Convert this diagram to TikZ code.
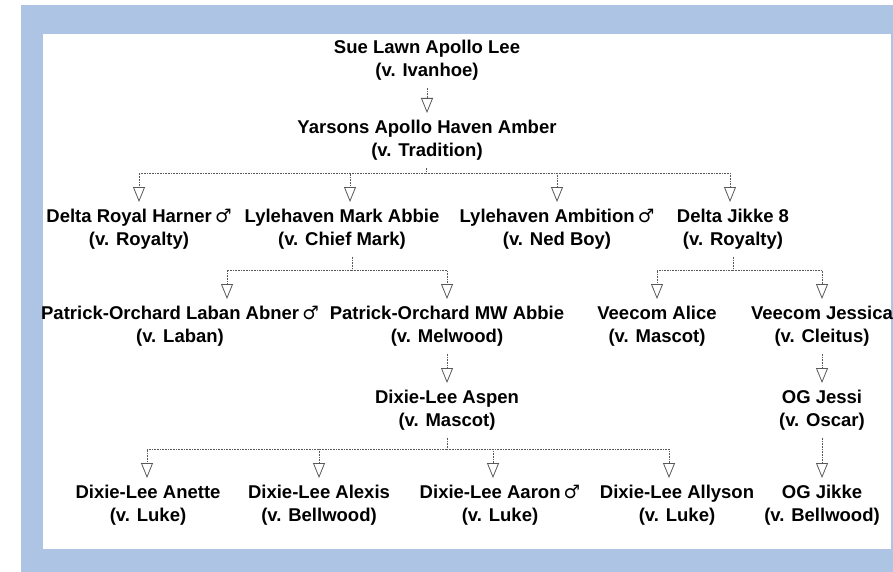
\documentclass[tikz,border=0pt]{standalone}
\usepackage{fontspec}
\setmainfont{Liberation Sans}
\newfontfamily\symfont{DejaVu Sans}
\usepackage{tikz}
\usetikzlibrary{arrows.meta}
\definecolor{frameBlue}{RGB}{174,196,228}
\newcommand{\maleSign}{{\symfont\mdseries\,♂}}
\tikzset{
  dog/.style={align=center, inner sep=0pt, outer ysep=7pt, anchor=north, font=\fontsize{18.5}{23.5}\selectfont\bfseries},
  line/.style={draw=black!65, densely dotted, line width=0.6pt},
  link/.style={line, -{Triangle[open, length=15pt, width=12pt, line width=0.8pt]}}
}

\begin{document}
\begin{tikzpicture}[x=1pt, y=-1pt]
    \useasboundingbox (0,0) rectangle (893,572);
    \fill[frameBlue] (21,5) rectangle (893,572);
    \fill[white] (43,34) rectangle (891,549);

    \node[dog] (sue) at (427,33) {Sue Lawn Apollo Lee\\(v. Ivanhoe)};
    \node[dog] (yarsons) at (427,113) {Yarsons Apollo Haven Amber\\(v. Tradition)};

    \node[dog] (harner) at (139,202) {Delta Royal Harner\maleSign\\(v. Royalty)};
    \node[dog] (markAbbie) at (342,202) {Lylehaven Mark Abbie\\(v. Chief Mark)};
    \node[dog] (ambition) at (557,202) {Lylehaven Ambition\maleSign\\(v. Ned Boy)};
    \node[dog] (jikkeEight) at (733,202) {Delta Jikke 8\\(v. Royalty)};

    \node[dog] (labanAbner) at (180,299) {Patrick-Orchard Laban Abner\maleSign\\(v. Laban)};
    \node[dog] (mwAbbie) at (447,299) {Patrick-Orchard MW Abbie\\(v. Melwood)};
    \node[dog] (alice) at (657,299) {Veecom Alice\\(v. Mascot)};
    \node[dog] (jessica) at (822,299) {Veecom Jessica\\(v. Cleitus)};

    \node[dog] (aspen) at (447,383) {Dixie-Lee Aspen\\(v. Mascot)};
    \node[dog] (ogJessi) at (822,383) {OG Jessi\\(v. Oscar)};

    \node[dog] (anette) at (148,478) {Dixie-Lee Anette\\(v. Luke)};
    \node[dog] (alexis) at (319,478) {Dixie-Lee Alexis\\(v. Bellwood)};
    \node[dog] (aaron) at (500,478) {Dixie-Lee Aaron\maleSign\\(v. Luke)};
    \node[dog] (allyson) at (677,478) {Dixie-Lee Allyson\\(v. Luke)};
    \node[dog] (ogJikke) at (822,478) {OG Jikke\\(v. Bellwood)};

    \coordinate (barOne) at (426,173);
    \coordinate (barTwo) at (352,270);
    \coordinate (barThree) at (733,270);
    \coordinate (barFour) at (447,449);

    \path [link] (sue) -- (yarsons);
    \path [line] ([xshift=-1pt]yarsons.south) -- (barOne);
    \path [link] (barOne) -| (harner.north);
    \path [link] (barOne) -| ([xshift=8pt]markAbbie.north);
    \path [link] (barOne) -| (ambition.north);
    \path [link] (barOne) -| ([xshift=-3pt]jikkeEight.north);

    \path [line] ([xshift=10pt]markAbbie.south) -- (barTwo);
    \path [link] (barTwo) -| ([xshift=47pt]labanAbner.north);
    \path [link] (barTwo) -| (mwAbbie.north);
    \path [line] (jikkeEight.south) -- (barThree);
    \path [link] (barThree) -| (alice.north);
    \path [link] (barThree) -| (jessica.north);

    \path [link] (mwAbbie) -- (aspen);
    \path [link] (jessica) -- (ogJessi);

    \path [line] (aspen.south) -- (barFour);
    \path [link] (barFour) -| ([xshift=-1pt]anette.north);
    \path [link] (barFour) -| (alexis.north);
    \path [link] (barFour) -| ([xshift=-7pt]aaron.north);
    \path [link] (barFour) -| ([xshift=-8pt]allyson.north);
    \path [link] (ogJessi) -- (ogJikke);
\end{tikzpicture}
\end{document}
